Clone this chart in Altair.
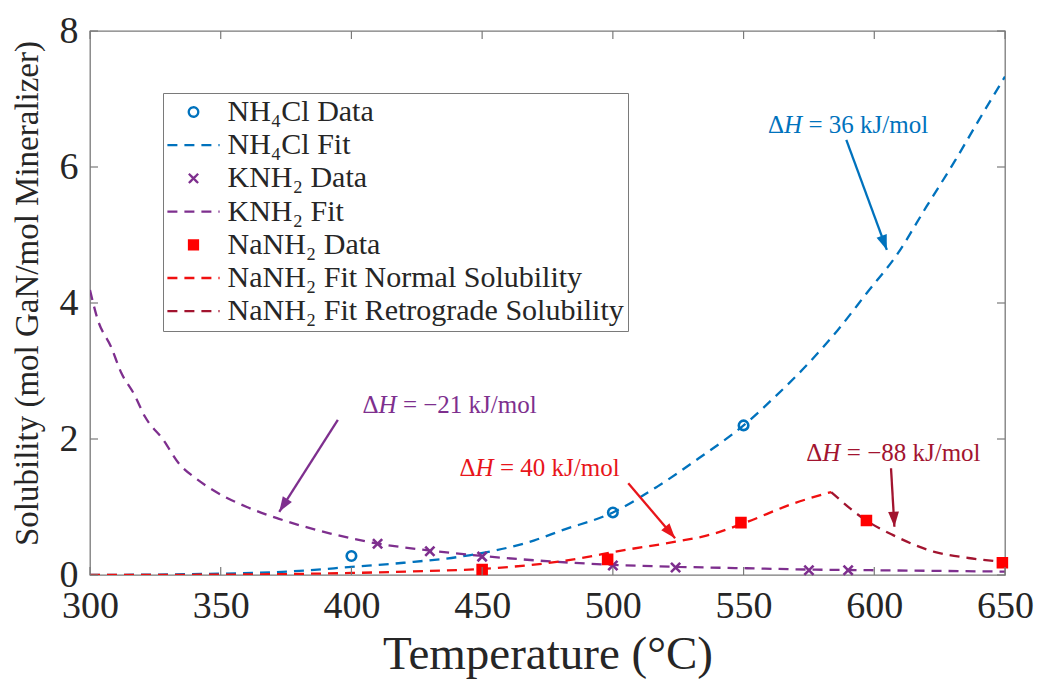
import math
import altair as alt
import pandas as pd

# ---------------- measured solubility data (T in °C) ----------------
nh4cl_T = [400, 500, 550]
nh4cl_S = [0.28, 0.92, 2.20]
knh2_T = [410, 430, 450, 500, 524, 575, 590]
knh2_S = [0.46, 0.35, 0.27, 0.14, 0.11, 0.07, 0.07]
nanh2_T = [450, 498, 549, 597, 649]
nanh2_S = [0.08, 0.23, 0.77, 0.80, 0.18]

# ---------------- fitted curves ----------------
nh4cl_fit_T = [300, 350, 380, 400, 420, 445, 470, 480, 500, 517, 533, 550,
               562, 575, 586, 597, 609, 620, 631, 640, 650]
nh4cl_fit_S = [0.0, 0.02, 0.06, 0.12, 0.18, 0.29, 0.51, 0.65, 0.92, 1.30, 1.72, 2.20,
               2.62, 3.12, 3.60, 4.14, 4.73, 5.42, 6.10, 6.69, 7.33]
knh2_fit_T = [300, 303, 308, 312, 317, 321, 328, 334, 340.5, 347, 360, 372, 392, 406,
              430, 450, 476, 500, 525, 550, 575, 600, 625, 650]
knh2_fit_S = [4.19, 3.75, 3.36, 2.97, 2.65, 2.33, 1.99, 1.64, 1.42, 1.25, 1.00, 0.83,
              0.61, 0.49, 0.36, 0.28, 0.20, 0.15, 0.12, 0.10, 0.08, 0.07, 0.06, 0.05]
nanh2_norm_T = [300, 350, 400, 430, 450, 480, 505, 524, 537, 550, 569, 583.5]
nanh2_norm_S = [0.0, 0.005, 0.03, 0.06, 0.09, 0.20, 0.37, 0.49, 0.59, 0.76, 1.05, 1.22]
nanh2_retro_T = [583.5, 597, 607, 623, 636, 650]
nanh2_retro_S = [1.22, 0.80, 0.59, 0.34, 0.25, 0.19]

series_names = [
    "NH₄Cl Data",
    "NH₄Cl Fit",
    "KNH₂ Data",
    "KNH₂ Fit",
    "NaNH₂ Data",
    "NaNH₂ Fit Normal Solubility",
    "NaNH₂ Fit Retrograde Solubility",
]

x_ticks = [300, 350, 400, 450, 500, 550, 600, 650]
y_ticks = [0, 2, 4, 6, 8]

# enthalpy annotations: value text, label position, arrow start and arrow tip
ann_value = ["= 36 kJ/mol", "= −21 kJ/mol", "= 40 kJ/mol", "= −88 kJ/mol"]
ann_T = [590.8, 437.9, 472.8, 607.7]
ann_S = [6.62, 2.50, 1.57, 1.79]
arrow_T0 = [589.3, 394.8, 505.9, 606.4]
arrow_S0 = [6.40, 2.28, 1.35, 1.57]
arrow_T1 = [604.8, 372.4, 523.8, 607.7]
arrow_S1 = [4.78, 0.93, 0.54, 0.71]

# ---------------- styling ----------------
BLUE, PURPLE, RED, RED_FIT, MAROON = "#0072BD", "#7E2F8E", "#FF0000", "#F01010", "#A2142F"
series_colors = [BLUE, BLUE, PURPLE, PURPLE, RED, RED_FIT, MAROON]
X_MARK = "M-1,-1L1,1M-1,1L1,-1"
LINE_SYM = "M-2.9,0L2.9,0"
series_shapes = ["circle", LINE_SYM, X_MARK, LINE_SYM, "square", LINE_SYM, LINE_SYM]
series_fills = ["transparent", "transparent", "transparent", "transparent", RED,
                "transparent", "transparent"]
series_sizes = [90, 324, 85, 324, 80, 324, 324]
DASH = [10, 7]
series_dashes = [[1, 0], DASH, [1, 0], DASH, [1, 0], DASH, DASH]
ann_colors = [BLUE, PURPLE, "#E8151B", MAROON]

FONT = "Liberation Serif"
AXIS_COLOR = "#7a7a7a"
TEXT_COLOR = "#262626"
ANN_SIZE = 25

W, H = 915, 544
X_DOM = [300, 650]
Y_DOM = [0, 8]
PX_X = W / (X_DOM[1] - X_DOM[0])
PX_Y = H / (Y_DOM[1] - Y_DOM[0])
TICK_PX = 8


def long_df(parts):
    rows = []
    for name, ts, ss in parts:
        for t, s in zip(ts, ss):
            rows.append({"series": name, "T": t, "S": s})
    return pd.DataFrame(rows)


pts = long_df([
    (series_names[0], nh4cl_T, nh4cl_S),
    (series_names[2], knh2_T, knh2_S),
    (series_names[4], nanh2_T, nanh2_S),
])
fits = long_df([
    (series_names[1], nh4cl_fit_T, nh4cl_fit_S),
    (series_names[3], knh2_fit_T, knh2_fit_S),
    (series_names[5], nanh2_norm_T, nanh2_norm_S),
    (series_names[6], nanh2_retro_T, nanh2_retro_S),
])

x_scale = alt.Scale(domain=X_DOM, nice=False, zero=False)
y_scale = alt.Scale(domain=Y_DOM, nice=False, zero=False)

axis_common = dict(ticks=False, domain=False, grid=False, labelFlush=False, labelOverlap=False,
                   format="d", labelFont=FONT, titleFont=FONT, labelColor=TEXT_COLOR,
                   titleColor=TEXT_COLOR, titleFontWeight="normal")
x_axis = alt.Axis(values=x_ticks, title="Temperature (°C)", labelFontSize=38, labelPadding=12,
                  titleFontSize=47, titlePadding=6, **axis_common)
y_axis = alt.Axis(values=y_ticks, title="Solubility (mol GaN/mol Mineralizer)",
                  labelFontSize=38, labelPadding=12, titleFontSize=33, titlePadding=15,
                  titleY=H / 2 - 10, **axis_common)

leg = alt.Legend(title=None)
color_enc = alt.Color("series:N", scale=alt.Scale(domain=series_names, range=series_colors), legend=leg)

lines = alt.Chart(fits).mark_line(strokeWidth=2.3, clip=True, interpolate="monotone").encode(
    x=alt.X("T:Q", scale=x_scale, axis=x_axis),
    y=alt.Y("S:Q", scale=y_scale, axis=y_axis),
    color=color_enc,
    strokeDash=alt.StrokeDash("series:N", scale=alt.Scale(domain=series_names, range=series_dashes), legend=leg),
)

points = alt.Chart(pts).mark_point(filled=False, opacity=1, strokeWidth=2.6).encode(
    x=alt.X("T:Q", scale=x_scale),
    y=alt.Y("S:Q", scale=y_scale),
    color=color_enc,
    shape=alt.Shape("series:N", scale=alt.Scale(domain=series_names, range=series_shapes), legend=leg),
    fill=alt.Fill("series:N", scale=alt.Scale(domain=series_names, range=series_fills), legend=leg),
    size=alt.Size("series:N", scale=alt.Scale(type="ordinal", domain=series_names, range=series_sizes),
                  legend=leg),
)

# inward tick marks on all four sides of the box
tlx = TICK_PX / PX_X
tly = TICK_PX / PX_Y
xt = pd.DataFrame({"T": x_ticks})
yt = pd.DataFrame({"S": y_ticks})
tick_layers = [
    alt.Chart(xt).mark_rule(color=AXIS_COLOR, strokeWidth=1.2).encode(
        x=alt.X("T:Q", scale=x_scale), y=alt.datum(Y_DOM[0]), y2=alt.datum(Y_DOM[0] + tly)),
    alt.Chart(xt).mark_rule(color=AXIS_COLOR, strokeWidth=1.2).encode(
        x=alt.X("T:Q", scale=x_scale), y=alt.datum(Y_DOM[1]), y2=alt.datum(Y_DOM[1] - tly)),
    alt.Chart(yt).mark_rule(color=AXIS_COLOR, strokeWidth=1.2).encode(
        y=alt.Y("S:Q", scale=y_scale), x=alt.datum(X_DOM[0]), x2=alt.datum(X_DOM[0] + tlx)),
    alt.Chart(yt).mark_rule(color=AXIS_COLOR, strokeWidth=1.2).encode(
        y=alt.Y("S:Q", scale=y_scale), x=alt.datum(X_DOM[1]), x2=alt.datum(X_DOM[1] - tlx)),
]

# annotation arrows and labels ("Δ" + italic "H" + value text, centred as one line)
ARROW_HEAD = "M0,0L-0.36,1L0.36,1Z"
CHAR_W = 0.47 * ANN_SIZE  # rough average glyph advance for the label font
ann_layers = []
for i in range(len(ann_value)):
    dx = (arrow_T1[i] - arrow_T0[i]) * PX_X
    dy = -(arrow_S1[i] - arrow_S0[i]) * PX_Y
    ang = math.degrees(math.atan2(dx, -dy)) % 360
    seg = pd.DataFrame({"T": [arrow_T0[i]], "S": [arrow_S0[i]],
                        "T2": [arrow_T1[i]], "S2": [arrow_S1[i]]})
    tip = pd.DataFrame({"T": [arrow_T1[i]], "S": [arrow_S1[i]]})
    lab = pd.DataFrame({"T": [ann_T[i]], "S": [ann_S[i]], "txt": [ann_value[i]]})
    c = ann_colors[i]
    ann_layers.append(alt.Chart(seg).mark_rule(color=c, strokeWidth=2.3).encode(
        x=alt.X("T:Q", scale=x_scale), y=alt.Y("S:Q", scale=y_scale), x2="T2:Q", y2="S2:Q"))
    ann_layers.append(alt.Chart(tip).mark_point(shape=ARROW_HEAD, filled=True, size=900,
                                                angle=ang, color=c, opacity=1, strokeWidth=0).encode(
        x=alt.X("T:Q", scale=x_scale), y=alt.Y("S:Q", scale=y_scale)))
    total = (3 + len(ann_value[i])) * CHAR_W
    left = -total / 2
    ann_layers.append(alt.Chart(lab).mark_text(font=FONT, fontSize=ANN_SIZE, color=c, align="left",
                                               baseline="middle", dx=left).encode(
        x=alt.X("T:Q", scale=x_scale), y=alt.Y("S:Q", scale=y_scale), text=alt.value("Δ")))
    ann_layers.append(alt.Chart(lab).mark_text(font=FONT, fontSize=ANN_SIZE, color=c, align="left",
                                               baseline="middle", fontStyle="italic",
                                               dx=left + 0.64 * ANN_SIZE).encode(
        x=alt.X("T:Q", scale=x_scale), y=alt.Y("S:Q", scale=y_scale), text=alt.value("H")))
    ann_layers.append(alt.Chart(lab).mark_text(font=FONT, fontSize=ANN_SIZE, color=c, align="left",
                                               baseline="middle",
                                               dx=left + 1.62 * ANN_SIZE).encode(
        x=alt.X("T:Q", scale=x_scale), y=alt.Y("S:Q", scale=y_scale), text="txt:N"))

chart = alt.layer(lines, points, *tick_layers, *ann_layers).properties(
    width=W,
    height=H,
    autosize=alt.AutoSizeParams(type="none"),
    padding={"left": 90, "top": 31, "right": 36, "bottom": 110},
    background="white",
).configure_view(
    stroke=AXIS_COLOR, strokeWidth=1.3
).configure_axis(
    labelFont=FONT, titleFont=FONT, labelColor=TEXT_COLOR, titleColor=TEXT_COLOR,
    titleFontWeight="normal"
).configure_text(
    font=FONT
).configure_legend(
    orient="none", legendX=73, legendY=62, padding=4, strokeColor=AXIS_COLOR,
    fillColor="white", cornerRadius=0, labelFont=FONT, labelFontSize=30,
    labelColor=TEXT_COLOR, rowPadding=3.2, symbolOffset=11.5, labelOffset=19,
    symbolStrokeWidth=2.3, labelLimit=0, symbolLimit=0
)

chart.save("out.html", embed_options={"renderer": "svg", "actions": False})
